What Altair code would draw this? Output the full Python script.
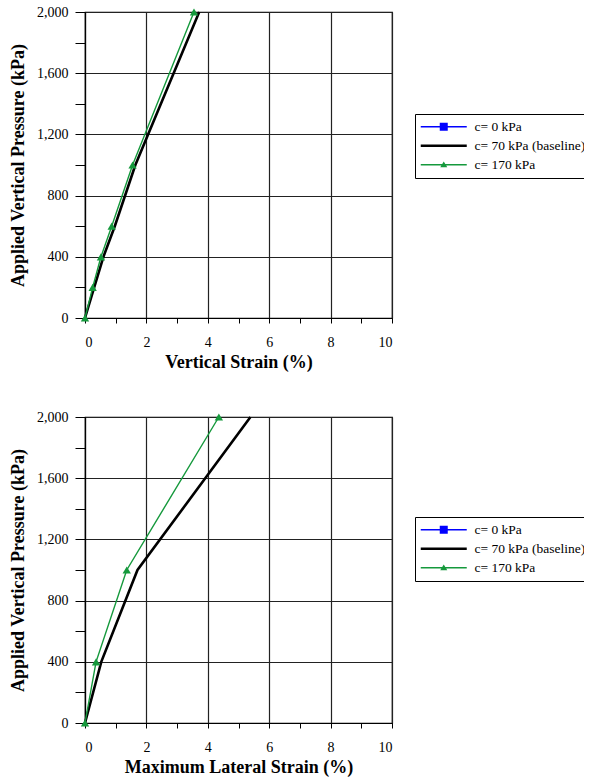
import altair as alt
import pandas as pd

# ---------------- data ----------------
SERIES = ["c= 0 kPa", "c= 70 kPa (baseline)", "c= 170 kPa"]
COLORS = ["#0000ff", "#000000", "#15993c"]

top_pressure = [0, 200, 400, 600, 1000, 2000]
top_c70_strain = [0, 0.30, 0.60, 0.97, 1.64, 3.72]
top_c170_strain = [0, 0.25, 0.52, 0.87, 1.55, 3.55]

bot_pressure = [0, 400, 1000, 2000]
bot_c70_strain = [0, 0.53, 1.71, 5.39]
bot_c170_strain = [0, 0.36, 1.36, 4.36]

x_ticks = list(range(0, 11))
y_ticks = list(range(0, 2001, 200))

FONT = "Liberation Serif"

def frame(pressure, c70, c170):
    rows = []
    for s, xs in ((SERIES[1], c70), (SERIES[2], c170)):
        for p, v in zip(pressure, xs):
            rows.append({"series": s, "strain": v, "pressure": p})
    return pd.DataFrame(rows)

# legend symbols (unit = sqrt(symbolSize)/2 = 5 px)
P_SQUARE = "M-1.4,-0.13H7.8V0.13H-1.4ZM2.4,-0.8H4.0V0.8H2.4Z"
P_THICK = "M-1.4,-0.27H7.8V0.27H-1.4Z"
P_TRI = "M-1.4,-0.13H7.8V0.13H-1.4ZM3.2,-0.65L3.9,0.5H2.5Z"
shape_expr = (f"datum.value === '{SERIES[0]}' ? '{P_SQUARE}' : "
              f"datum.value === '{SERIES[2]}' ? '{P_TRI}' : '{P_THICK}'")
fill_expr = (f"datum.value === '{SERIES[0]}' ? '{COLORS[0]}' : "
             f"datum.value === '{SERIES[2]}' ? '{COLORS[2]}' : '{COLORS[1]}'")


def panel(df, xtitle, legend_y):
    base = alt.Chart(df)
    x = alt.X("strain:Q", scale=alt.Scale(domain=[0, 10], nice=False),
              axis=alt.Axis(values=x_ticks, title=xtitle,
                            labelExpr="datum.value % 2 === 0 ? datum.label : ''",
                            gridOpacity={"condition": {"test": "datum.value % 2 === 0", "value": 1}, "value": 0},
                            tickSize=5, labelPadding=12, titlePadding=4))
    y = alt.Y("pressure:Q", scale=alt.Scale(domain=[0, 2000], nice=False),
              axis=alt.Axis(values=y_ticks, format=",d", title="Applied Vertical Pressure (kPa)",
                            labelExpr="datum.value % 400 === 0 ? datum.label : ''",
                            gridOpacity={"condition": {"test": "datum.value % 400 === 0", "value": 1}, "value": 0},
                            tickSize=10, labelPadding=7, titlePadding=9))
    lines = base.mark_line().encode(
        x=x, y=y,
        color=alt.Color("series:N", scale=alt.Scale(domain=SERIES, range=COLORS),
                        legend=alt.Legend(title=None, orient="none", legendX=330, legendY=legend_y,
                                          symbolType={"expr": shape_expr},
                                          symbolFillColor={"expr": fill_expr},
                                          symbolStrokeWidth=0, symbolSize=100,
                                          labelOffset=40, rowPadding=4,
                                          padding=6, strokeColor="black",
                                          labelFont=FONT, labelFontSize=13.5, labelColor="black")),
        strokeWidth=alt.condition(alt.datum.series == SERIES[1], alt.value(2.6), alt.value(1.4)),
    )
    pts = base.transform_filter(alt.datum.series == SERIES[2]).mark_point(
        shape="triangle-up", filled=True, size=70, color=COLORS[2], opacity=1
    ).encode(x=x, y=y)
    return alt.layer(lines, pts).properties(width=307, height=306)


top = panel(frame(top_pressure, top_c70_strain, top_c170_strain), "Vertical Strain (%)", 102)
bot = panel(frame(bot_pressure, bot_c70_strain, bot_c170_strain), "Maximum Lateral Strain (%)", 100)

chart = alt.vconcat(top, bot, spacing=37).resolve_scale(
    color="independent"
).resolve_legend(color="independent").properties(
    padding={"left": 8, "top": 4, "right": -10, "bottom": 0}
).configure_view(stroke="black", strokeWidth=1.2).configure_axis(
    labelFont=FONT, labelFontSize=14, labelColor="black",
    titleFont=FONT, titleFontSize=18, titleFontWeight="bold", titleColor="black",
    domainColor="black", domainWidth=1.2, tickColor="black", tickWidth=1,
    gridColor="#222222", gridWidth=1.2,
)

chart.save("out.html", embed_options={"renderer": "svg", "actions": False})
